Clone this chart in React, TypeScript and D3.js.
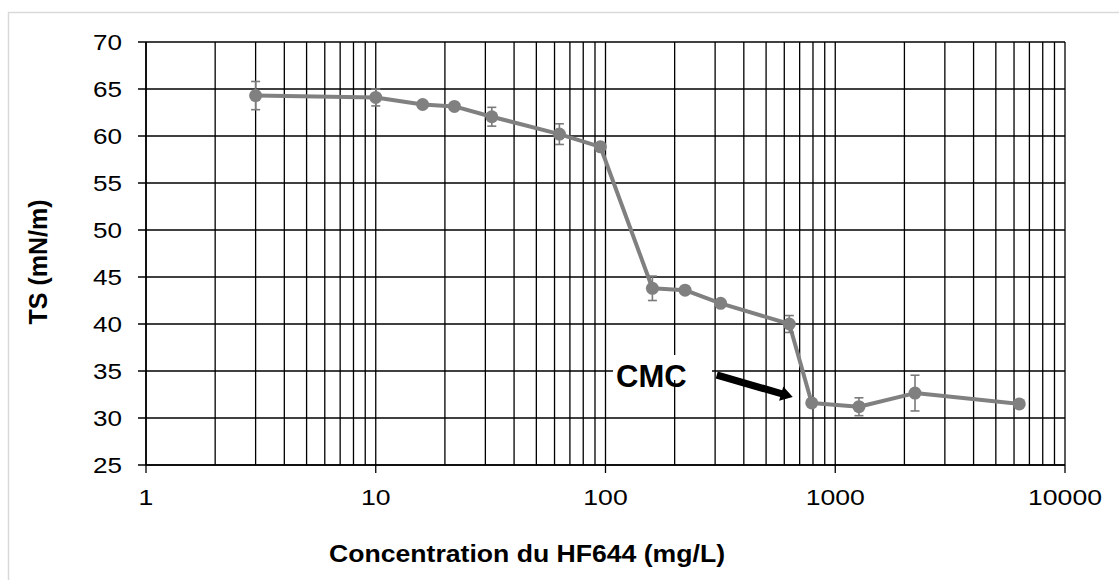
import React from "react";
import * as d3 from "d3";

const concentrations = [3, 10, 16, 22, 32, 63, 95, 160, 222, 317, 631, 790, 1268, 2224, 6324];
const tsValues = [64.3, 64.1, 63.35, 63.15, 62.05, 60.2, 58.85, 43.8, 43.6, 42.2, 40.0, 31.6, 31.2, 32.65, 31.5];
const tsErrors = [1.5, 0.9, 0, 0, 1.0, 1.1, 0, 1.3, 0, 0, 0.9, 0, 0.95, 1.9, 0];
const yTicks = [25, 30, 35, 40, 45, 50, 55, 60, 65, 70];
const xTicks = [1, 10, 100, 1000, 10000];
const xTitle = "Concentration du HF644 (mg/L)";
const yTitle = "TS (mN/m)";
const cmcLabel = "CMC";
const cmcIndex = 11;

const W = 1119;
const H = 580;
const L = 146, R = 1065, T = 42, B = 465;

export default function App() {
  const x = d3.scaleLog().domain([1, 10000]).range([L, R]);
  const y = d3.scaleLinear().domain([25, 70]).range([B, T]);
  const minor: number[] = [];
  for (let e = 0; e < 4; e++) {
    for (let k = 1; k <= 9; k++) minor.push(k * Math.pow(10, e));
  }
  minor.push(10000);
  const line = d3.line<number>().x((_, i) => x(concentrations[i])).y((v) => y(v));
  const font = "'Liberation Sans', Arial, sans-serif";
  const grey = "#808080";

  const px = x(concentrations[cmcIndex]);
  const py = y(tsValues[cmcIndex]);
  const tipX = px - 19, tipY = py - 6;
  const tailX = px - 95, tailY = py - 28;
  const ang = Math.atan2(tipY - tailY, tipX - tailX);
  const headLen = 12, headW = 7.5, shaftW = 3.6;
  const bx = tipX - headLen * Math.cos(ang), by = tipY - headLen * Math.sin(ang);
  const nx = -Math.sin(ang), ny = Math.cos(ang);
  const arrowPts = [
    [tailX + nx * shaftW, tailY + ny * shaftW],
    [bx + nx * shaftW, by + ny * shaftW],
    [bx + nx * headW, by + ny * headW],
    [tipX, tipY],
    [bx - nx * headW, by - ny * headW],
    [bx - nx * shaftW, by - ny * shaftW],
    [tailX - nx * shaftW, tailY - ny * shaftW],
  ].map((p) => p.join(",")).join(" ");

  return (
    <svg width={W} height={H} style={{ position: "absolute", left: 0, top: 0, display: "block" }}>
      <rect x={0} y={0} width={W} height={H} fill="#fff" />
      <rect x={8.5} y={12.5} width={1116} height={600} fill="#fff" stroke="#d9d9d9" strokeWidth={1.5} />
      {/* vertical grid */}
      {minor.map((v, i) => (
        <line key={"v" + i} x1={x(v)} x2={x(v)} y1={T} y2={xTicks.includes(v) ? B + 8 : B} stroke="#000" strokeWidth={1.3} />
      ))}
      {/* horizontal grid */}
      {yTicks.map((v) => (
        <line key={"h" + v} x1={L - 8} x2={R} y1={y(v)} y2={y(v)} stroke="#000" strokeWidth={1.3} />
      ))}
      <line x1={L} x2={R} y1={B} y2={B} stroke="#000" strokeWidth={1.6} />
      <line x1={L} x2={L} y1={T} y2={B} stroke="#000" strokeWidth={1.6} />
      {/* y tick labels */}
      {yTicks.map((v) => (
        <text key={"yl" + v} x={122} y={y(v) + 8} textAnchor="end" fontFamily={font} fontSize={22}
          textLength={String(v).length * 14.5} lengthAdjust="spacingAndGlyphs">{v}</text>
      ))}
      {xTicks.map((v) => (
        <text key={"xl" + v} x={x(v)} y={505} textAnchor="middle" fontFamily={font} fontSize={22}
          textLength={String(v).length * 14.8} lengthAdjust="spacingAndGlyphs">{v}</text>
      ))}
      {/* CMC annotation */}
      <rect x={613} y={355} width={99} height={25} fill="#fff" />
      <text x={616} y={387} fontFamily={font} fontWeight="bold" fontSize={31}>{cmcLabel}</text>
      <polygon points={arrowPts} fill="#000" />
      {/* series */}
      <path d={line(tsValues) || ""} fill="none" stroke={grey} strokeWidth={4} strokeLinejoin="round" />
      {tsValues.map((v, i) =>
        tsErrors[i] > 0 ? (
          <g key={"e" + i} stroke="#7a7a7a" strokeWidth={1.6}>
            <line x1={x(concentrations[i])} x2={x(concentrations[i])} y1={y(v - tsErrors[i])} y2={y(v + tsErrors[i])} />
            <line x1={x(concentrations[i]) - 4.5} x2={x(concentrations[i]) + 4.5} y1={y(v - tsErrors[i])} y2={y(v - tsErrors[i])} />
            <line x1={x(concentrations[i]) - 4.5} x2={x(concentrations[i]) + 4.5} y1={y(v + tsErrors[i])} y2={y(v + tsErrors[i])} />
          </g>
        ) : null
      )}
      {tsValues.map((v, i) => (
        <circle key={"c" + i} cx={x(concentrations[i])} cy={y(v)} r={6.5} fill={grey} />
      ))}
      {/* titles */}
      <text x={527} y={562} textAnchor="middle" fontFamily={font} fontWeight="bold" fontSize={24}
        textLength={396} lengthAdjust="spacingAndGlyphs">{xTitle}</text>
      <text transform="translate(47,262) rotate(-90)" textAnchor="middle" fontFamily={font} fontWeight="bold" fontSize={25}>{yTitle}</text>
    </svg>
  );
}
